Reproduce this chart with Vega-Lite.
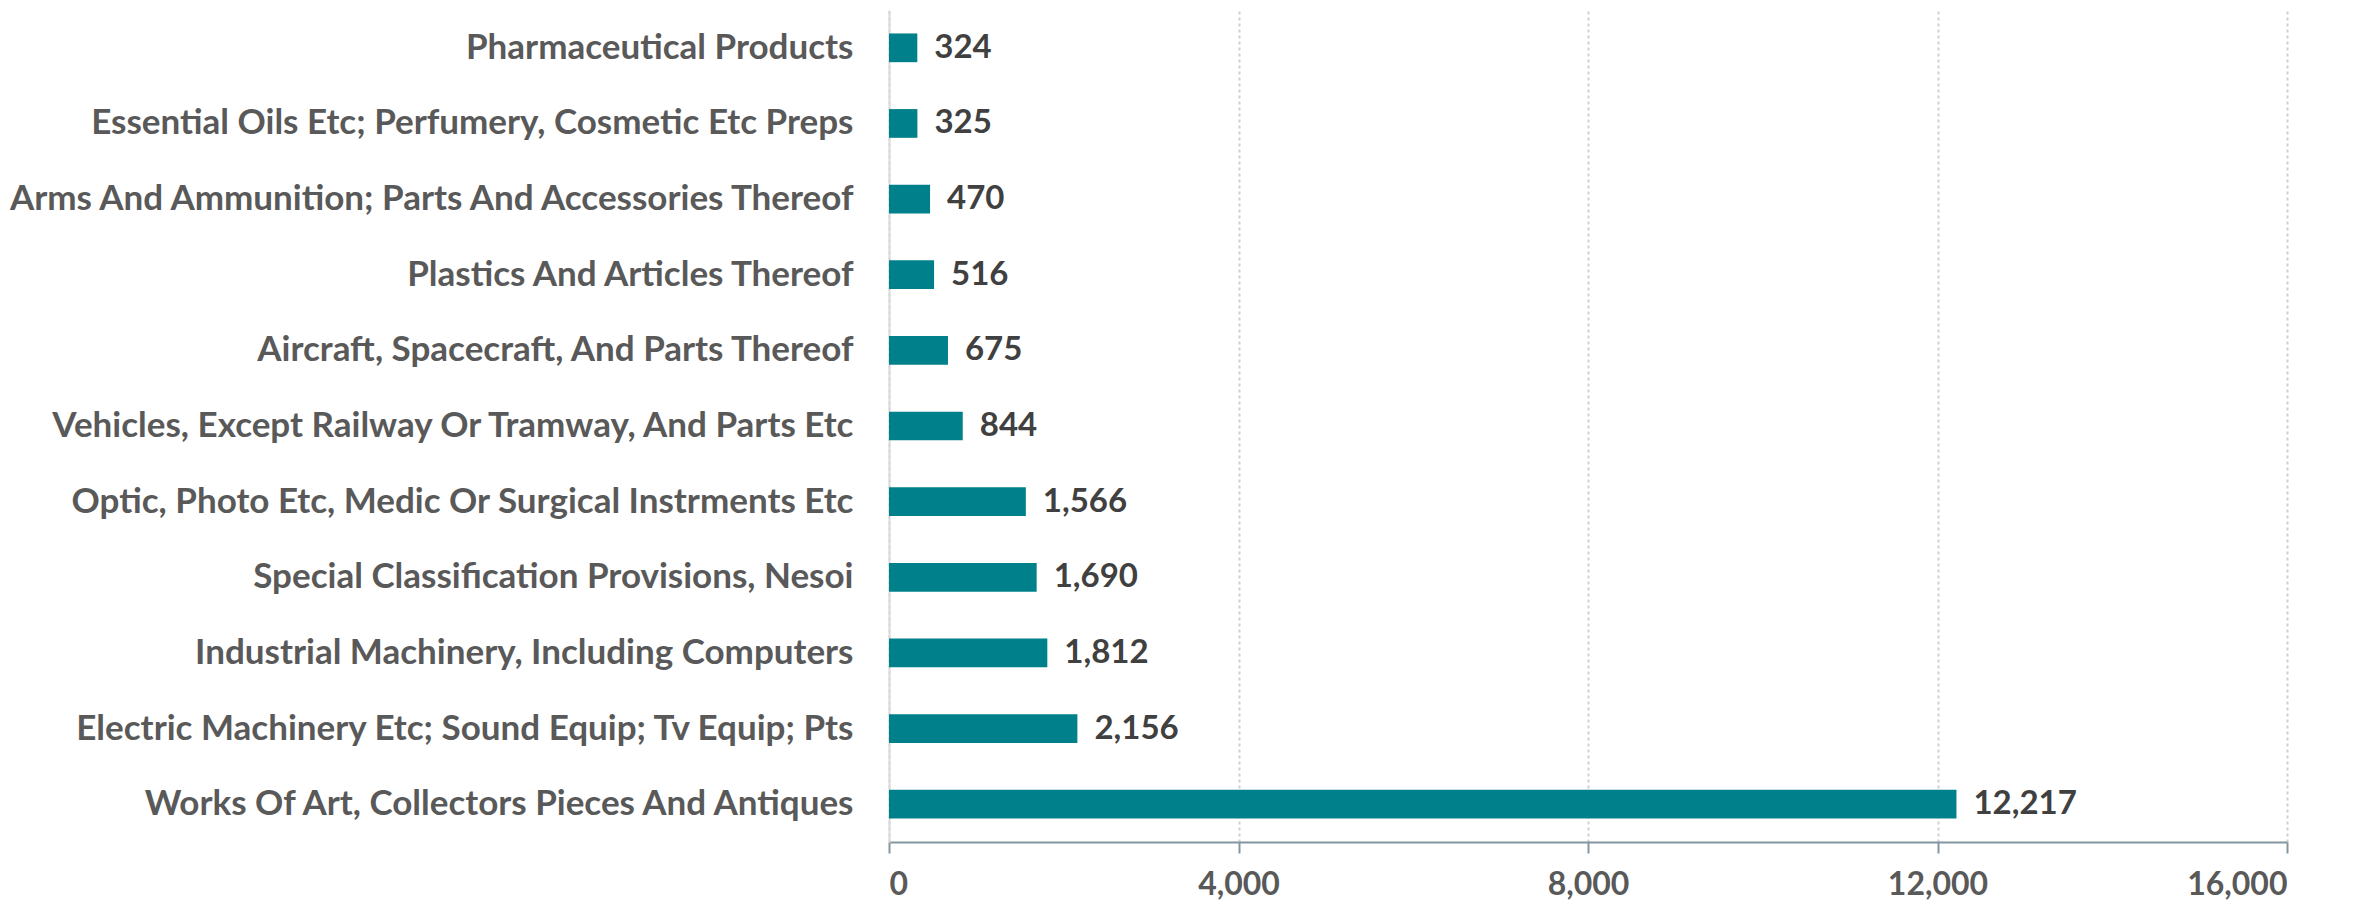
{
  "$schema": "https://vega.github.io/schema/vega-lite/v6.json",
  "autosize": "none",
  "padding": {"left": 889, "top": 10, "right": 79, "bottom": 65},
  "width": 1398,
  "height": 832,
  "background": "white",
  "config": {"view": {"stroke": null}, "font": "Lato"},
  "data": {
    "values": [
      {"category": "Pharmaceutical Products", "value": 324},
      {"category": "Essential Oils Etc; Perfumery, Cosmetic Etc Preps", "value": 325},
      {"category": "Arms And Ammunition; Parts And Accessories Thereof", "value": 470},
      {"category": "Plastics And Articles Thereof", "value": 516},
      {"category": "Aircraft, Spacecraft, And Parts Thereof", "value": 675},
      {"category": "Vehicles, Except Railway Or Tramway, And Parts Etc", "value": 844},
      {"category": "Optic, Photo Etc, Medic Or Surgical Instrments Etc", "value": 1566},
      {"category": "Special Classification Provisions, Nesoi", "value": 1690},
      {"category": "Industrial Machinery, Including Computers", "value": 1812},
      {"category": "Electric Machinery Etc; Sound Equip; Tv Equip; Pts", "value": 2156},
      {"category": "Works Of Art, Collectors Pieces And Antiques", "value": 12217}
    ]
  },
  "encoding": {
    "y": {
      "field": "category",
      "type": "nominal",
      "sort": null,
      "scale": {"paddingInner": 0.62, "paddingOuter": 0.31},
      "axis": {
        "title": null,
        "domain": true,
        "domainColor": "#d9d9d9",
        "domainWidth": 2,
        "ticks": false,
        "labelFont": "Lato",
        "labelFontWeight": "bold",
        "labelFontSize": 35,
        "labelColor": "#595959",
        "labelPadding": 36,
        "labelLimit": 1000
      }
    },
    "x": {
      "field": "value",
      "type": "quantitative",
      "scale": {"domain": [0, 16000], "nice": false},
      "axis": {
        "title": null,
        "values": [0, 4000, 8000, 12000, 16000],
        "format": ",.0f",
        "grid": true,
        "gridColor": "#d0d0d0",
        "gridDash": [3, 3],
        "gridWidth": 2,
        "domainColor": "#8497a0",
        "domainWidth": 2,
        "tickColor": "#8497a0",
        "tickWidth": 2,
        "tickSize": 11,
        "labelFont": "Lato",
        "labelFontWeight": "bold",
        "labelFontSize": 32,
        "labelColor": "#595959",
        "labelPadding": 16
      }
    }
  },
  "layer": [
    {"mark": {"type": "bar", "color": "#00808a"}},
    {
      "mark": {"type": "text", "align": "left", "baseline": "middle", "dx": 17, "font": "Lato", "fontWeight": "bold", "fontSize": 33, "color": "#404040"},
      "encoding": {"text": {"field": "value", "type": "quantitative", "format": ",.0f"}}
    }
  ]
}
